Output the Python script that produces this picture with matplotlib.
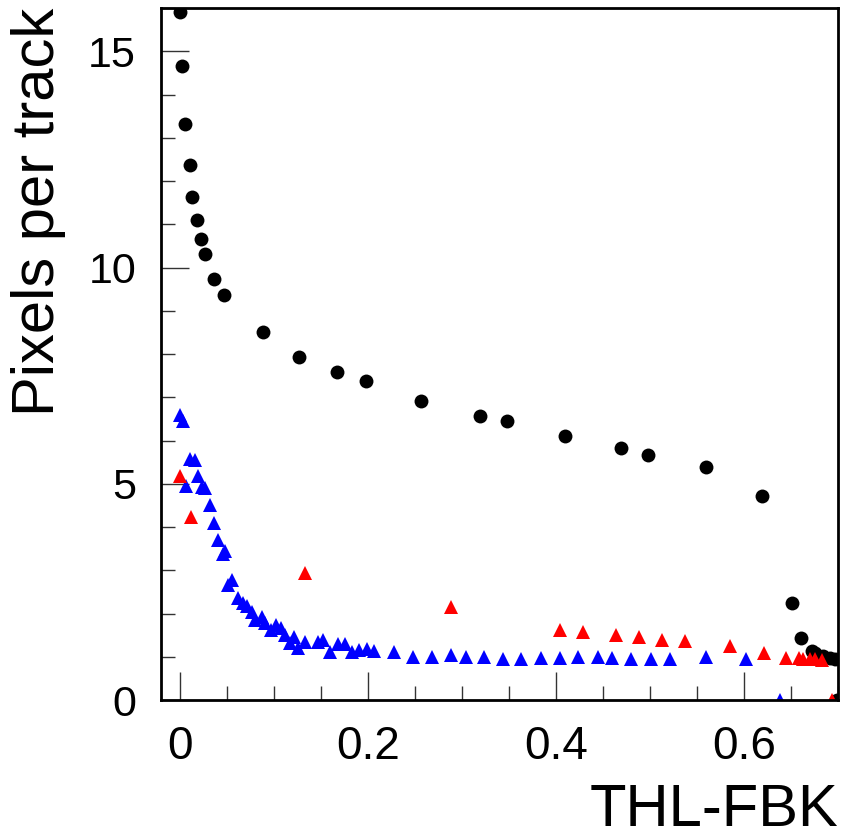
import matplotlib
matplotlib.use("Agg")
import matplotlib.pyplot as plt
from matplotlib.ticker import MultipleLocator, FuncFormatter

plt.rcParams['font.family'] = ['Liberation Sans', 'DejaVu Sans']

# Black circles
x_black = [0.0, 0.0025, 0.006, 0.0106, 0.0135, 0.0184, 0.023, 0.0266, 0.0365, 0.0468,
           0.0883, 0.1266, 0.167, 0.198, 0.256, 0.319, 0.348, 0.41, 0.469, 0.498,
           0.56, 0.619, 0.651, 0.661, 0.672, 0.676, 0.684, 0.691, 0.697, 0.699]
y_black = [15.9, 14.66, 13.31, 12.38, 11.64, 11.10, 10.67, 10.32, 9.74, 9.375,
           8.50, 7.94, 7.59, 7.38, 6.92, 6.57, 6.46, 6.11, 5.83, 5.66,
           5.38, 4.71, 2.24, 1.43, 1.14, 1.09, 1.02, 0.97, 0.94, 0.0]

# Blue triangles
x_blue = [0.0, 0.0035, 0.0106, 0.016, 0.0195, 0.0071, 0.0238, 0.0273, 0.0319, 0.0362,
          0.0408, 0.046, 0.0479, 0.055, 0.0514, 0.062, 0.0674, 0.0716, 0.0763, 0.0798,
          0.0869, 0.0904, 0.0975, 0.1028, 0.108, 0.1117, 0.117, 0.121, 0.126, 0.133,
          0.147, 0.1525, 0.16, 0.168, 0.1755, 0.183, 0.191, 0.199, 0.207, 0.228,
          0.248, 0.268, 0.288, 0.304, 0.323, 0.344, 0.363, 0.384, 0.404, 0.424,
          0.445, 0.46, 0.48, 0.501, 0.521, 0.56, 0.602, 0.638]
y_blue = [6.60, 6.44, 5.57, 5.56, 5.19, 4.94, 4.92, 4.90, 4.51, 4.09,
          3.69, 3.38, 3.45, 2.78, 2.66, 2.35, 2.25, 2.18, 2.04, 1.85,
          1.93, 1.78, 1.62, 1.74, 1.66, 1.50, 1.31, 1.45, 1.20, 1.35,
          1.35, 1.39, 1.12, 1.30, 1.30, 1.10, 1.16, 1.17, 1.14, 1.10,
          0.99, 0.99, 1.03, 0.99, 0.99, 0.94, 0.94, 0.98, 0.98, 0.99,
          0.99, 0.98, 0.94, 0.94, 0.94, 1.00, 0.94, 0.0]

# Red triangles
x_red = [0.0, 0.0117, 0.133, 0.288, 0.404, 0.429, 0.464, 0.488, 0.513, 0.537,
         0.585, 0.621, 0.645, 0.658, 0.663, 0.670, 0.676, 0.683, 0.694]
y_red = [5.17, 4.24, 2.93, 2.16, 1.62, 1.58, 1.50, 1.45, 1.39, 1.36,
         1.25, 1.08, 0.97, 0.97, 0.94, 0.94, 0.94, 0.93, 0.0]

x_label = "THL-FBK"
y_label = "Pixels per track"

fig = plt.figure(figsize=(8.44, 8.39), dpi=100)
ax = fig.add_axes([161 / 844, 1 - 700 / 839, (838 - 161) / 844, (700 - 8) / 839])

ms = 10
ax.plot(x_black, y_black, 'o', color='black', ms=ms, mew=0, linestyle='none')
ax.plot(x_blue, y_blue, '^', color='#0000ff', ms=ms, mew=0, linestyle='none')
ax.plot(x_red, y_red, '^', color='#ff0000', ms=ms, mew=0, linestyle='none')

ax.set_xlim(-0.02, 0.70)
ax.set_ylim(0, 16)

ax.xaxis.set_major_locator(MultipleLocator(0.2))
ax.xaxis.set_minor_locator(MultipleLocator(0.05))
ax.yaxis.set_major_locator(MultipleLocator(5))
ax.yaxis.set_minor_locator(MultipleLocator(1))
ax.xaxis.set_major_formatter(FuncFormatter(lambda v, p: f"{v:g}"))

ax.tick_params(which='both', direction='in', top=False, right=False, width=1.0, color='#333333')
ax.tick_params(which='major', length=20)
ax.tick_params(which='minor', length=10)
ax.tick_params(axis='y', which='major', labelsize=31, pad=18)
ax.tick_params(axis='x', which='major', labelsize=33, pad=18)

for s in ax.spines.values():
    s.set_linewidth(2)

ax.set_xlabel(x_label, fontsize=43, loc='right', labelpad=10)
ax.set_ylabel(y_label, fontsize=43, loc='top', labelpad=16)

fig.savefig("out.png", dpi=100)
